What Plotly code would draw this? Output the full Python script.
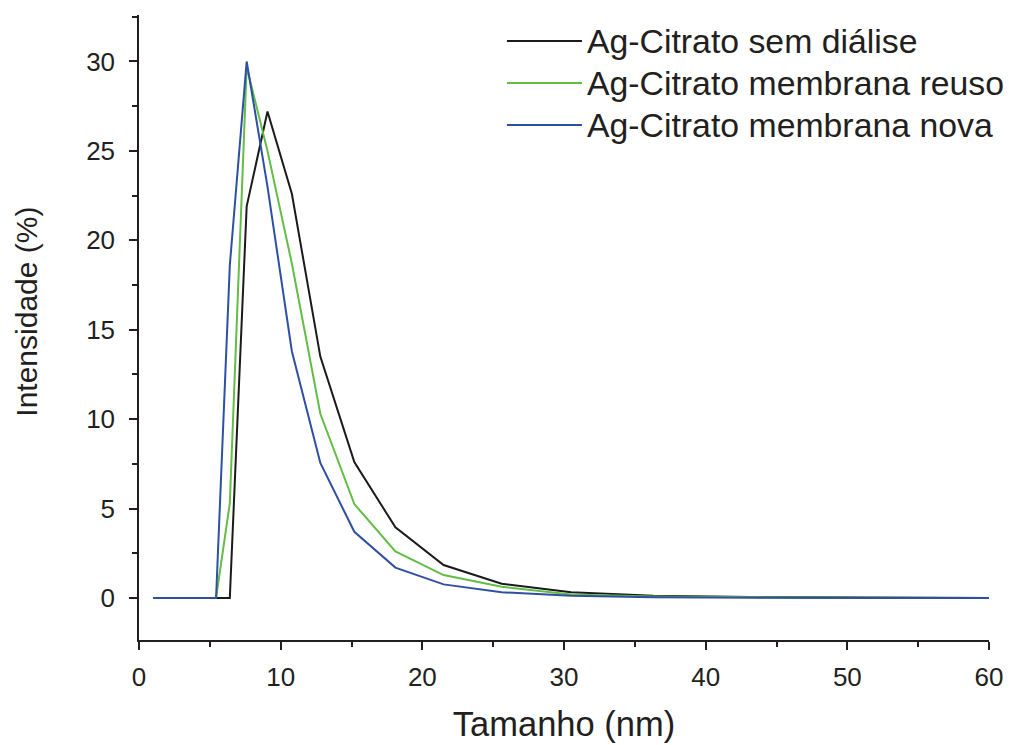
import plotly.graph_objects as go

# Size bins (nm)
x_bins = [1.0, 5.44, 6.41, 7.6, 9.07, 10.79, 12.8, 15.2, 18.1, 21.5, 25.6, 30.5, 36.3, 43.2, 51.4, 60.0]

y_sem = [0, 0, 0, 21.9, 27.2, 22.6, 13.5, 7.6, 3.95, 1.84, 0.8, 0.32, 0.13, 0.05, 0.02, 0]
y_reuso = [0, 0, 5.3, 29.7, 25.0, 18.7, 10.3, 5.25, 2.6, 1.28, 0.63, 0.2, 0.08, 0.03, 0.01, 0]
y_nova = [0, 0, 18.6, 30.0, 23.0, 13.8, 7.55, 3.7, 1.7, 0.76, 0.32, 0.13, 0.04, 0.01, 0, 0]

names = ["Ag-Citrato sem diálise", "Ag-Citrato membrana reuso", "Ag-Citrato membrana nova"]
colors = ["#1a1a1a", "#62bd45", "#2f4fa3"]

fig = go.Figure()
for yv, nm, c in zip([y_sem, y_reuso, y_nova], names, colors):
    fig.add_trace(go.Scatter(x=x_bins, y=yv, mode="lines",
                             name='<span style="font-size:33.8px">' + nm + '</span>',
                             line=dict(color=c, width=2)))

axis_color = "#231f20"
font_family = "Liberation Sans, Arial, sans-serif"

fig.update_layout(
    width=1009, height=745,
    margin=dict(l=139, r=20, t=15, b=105, autoexpand=False),
    plot_bgcolor="white", paper_bgcolor="white",
    font=dict(family=font_family, color="#231f20"),
    showlegend=True,
    legend=dict(x=0.427, y=1.0, xanchor="left", yanchor="top",
                font=dict(size=30, family=font_family, color="#231f20"),
                bgcolor="rgba(0,0,0,0)", itemwidth=75, tracegroupgap=0),
    xaxis=dict(
        range=[0, 60], showgrid=False, zeroline=False,
        showline=True, linecolor=axis_color, linewidth=1.5,
        ticks="outside", ticklen=8, tickwidth=1.5, tickcolor=axis_color,
        tick0=0, dtick=10, ticklabelstandoff=5,
        minor=dict(ticks="outside", ticklen=5, tickwidth=1.5, tickcolor=axis_color, dtick=5),
        tickfont=dict(size=26, family=font_family, color="#231f20"),
        title=dict(text="Tamanho (nm)", font=dict(size=34.5, family=font_family, color="#231f20"), standoff=21),
    ),
    yaxis=dict(
        range=[-2.35, 32.6], showgrid=False, zeroline=False,
        showline=True, linecolor=axis_color, linewidth=1.5,
        ticks="outside", ticklen=8, tickwidth=1.5, tickcolor=axis_color,
        tick0=0, dtick=5, ticklabelstandoff=9,
        minor=dict(ticks="outside", ticklen=5, tickwidth=1.5, tickcolor=axis_color, dtick=2.5),
        tickfont=dict(size=26, family=font_family, color="#231f20"),
    ),
    annotations=[dict(
        text="Intensidade (%)", textangle=-90, showarrow=False,
        xref="paper", yref="paper", x=-0.132, y=0.525,
        xanchor="center", yanchor="middle",
        font=dict(size=30, family=font_family, color="#231f20"),
    )],
)

fig.write_html("out.html")
